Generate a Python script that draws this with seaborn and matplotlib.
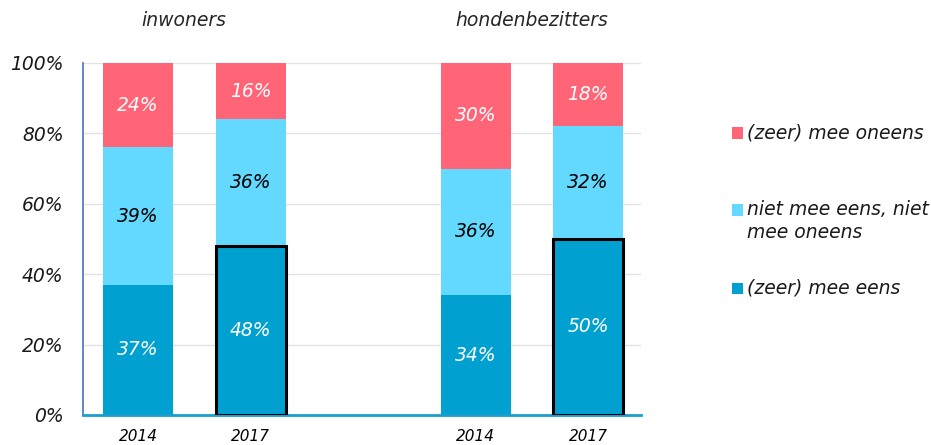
import pandas as pd
import matplotlib
matplotlib.use("Agg")
import matplotlib.pyplot as plt
import matplotlib.patheffects as pe
from matplotlib.patches import Rectangle
import seaborn as sns

# Data
groups = ["inwoners", "hondenbezitters"]
years = ["2014", "2017"]
mee_eens = [37, 48, 34, 50]      # (zeer) mee eens
neutraal = [39, 36, 36, 32]      # niet mee eens, niet mee oneens
oneens = [24, 16, 30, 18]        # (zeer) mee oneens
legend_labels = ["(zeer) mee oneens", "niet mee eens, niet\nmee oneens", "(zeer) mee eens"]

c_eens = "#00A0D0"
c_neutraal = "#63D9FF"
c_oneens = "#FF6577"

keys = [f"{g} {y}" for g in groups for y in years]
order = keys[:2] + [""] + keys[2:]
df = pd.DataFrame({"bar": keys, "eens": mee_eens, "neutraal": neutraal, "oneens": oneens})
df["top2"] = df["eens"] + df["neutraal"]
df["top3"] = df["top2"] + df["oneens"]

sns.set_theme(style="white")
plt.rcParams["font.family"] = ["DejaVu Sans"]

fig = plt.figure(figsize=(9.31, 4.45), dpi=100)
ax = fig.add_axes([83 / 931, 30 / 445, 558 / 931, 352 / 445])

# stacked bars via overlapping cumulative totals
sns.barplot(data=df, x="bar", y="top3", order=order, color=c_oneens, saturation=1,
            width=0.62, errorbar=None, ax=ax, zorder=2, linewidth=0)
sns.barplot(data=df, x="bar", y="top2", order=order, color=c_neutraal, saturation=1,
            width=0.62, errorbar=None, ax=ax, zorder=2, linewidth=0)
sns.barplot(data=df, x="bar", y="eens", order=order, color=c_eens, saturation=1,
            width=0.62, errorbar=None, ax=ax, zorder=2, linewidth=0)

# black outline on the 2017 bottom segments
for patch in ax.containers[-1].patches:
    xc = patch.get_x() + patch.get_width() / 2
    idx = int(round(xc))
    if order[idx].endswith("2017"):
        patch.set_edgecolor("black")
        patch.set_linewidth(2.2)
        patch.set_zorder(3)
        patch.set_path_effects([pe.SimplePatchShadow(offset=(1, -1), shadow_rgbFace="gray", alpha=0.5),
                                pe.Normal()])

# segment labels
for i, k in enumerate(keys):
    x = order.index(k)
    a, b, c = mee_eens[i], neutraal[i], oneens[i]
    kw = dict(ha="center", va="center", fontsize=13.5, style="italic", zorder=5)
    ax.text(x, a / 2, f"{a}%", color="white", **kw)
    ax.text(x, a + b / 2, f"{b}%", color="black", **kw)
    ax.text(x, a + b + c / 2, f"{c}%", color="white", **kw)

# group titles
tr = ax.get_xaxis_transform()
ax.text(0.41, 1.12, groups[0], transform=tr, ha="center", va="center", fontsize=13.5, style="italic")
ax.text(3.5, 1.12, groups[1], transform=tr, ha="center", va="center", fontsize=13.5, style="italic")

# axes styling
ax.set_xlim(-0.49, 4.47)
ax.set_ylim(0, 100)
ax.set_yticks(range(0, 101, 20))
ax.set_yticklabels([f"{v}%" for v in range(0, 101, 20)], fontsize=13.5, style="italic", color="#1a1a1a")
ax.set_xticks(range(len(order)))
ax.set_xticklabels(years + [""] + years, fontsize=11, style="italic", color="black")
ax.tick_params(axis="y", length=0, pad=14)
ax.tick_params(axis="x", length=0, pad=10)
ax.set_xlabel("")
ax.set_ylabel("")
ax.yaxis.grid(True, color="#E3E3E3", linewidth=1, zorder=0)
ax.set_axisbelow(True)
for s in ["top", "right"]:
    ax.spines[s].set_visible(False)
ax.spines["left"].set_color("#4F81BD")
ax.spines["left"].set_linewidth(1.3)
ax.spines["bottom"].set_color("#1A9FD0")
ax.spines["bottom"].set_linewidth(2)

# legend (manual)
leg_colors = [c_oneens, c_neutraal, c_eens]
leg_y = [133, 210, 288]
for lab, col, y in zip(legend_labels, leg_colors, leg_y):
    fig.add_artist(Rectangle((732 / 931, (445 - y - 5.5) / 445), 11 / 931, 11 / 445,
                             transform=fig.transFigure, facecolor=col, edgecolor="none"))
    if "\n" in lab:
        fig.text(747 / 931, (445 - y + 10) / 445, lab, ha="left", va="top",
                 fontsize=13.5, style="italic", color="#1a1a1a", linespacing=1.25)
    else:
        fig.text(747 / 931, (445 - y) / 445, lab, ha="left", va="center",
                 fontsize=13.5, style="italic", color="#1a1a1a")

fig.savefig("out.png", dpi=100)
